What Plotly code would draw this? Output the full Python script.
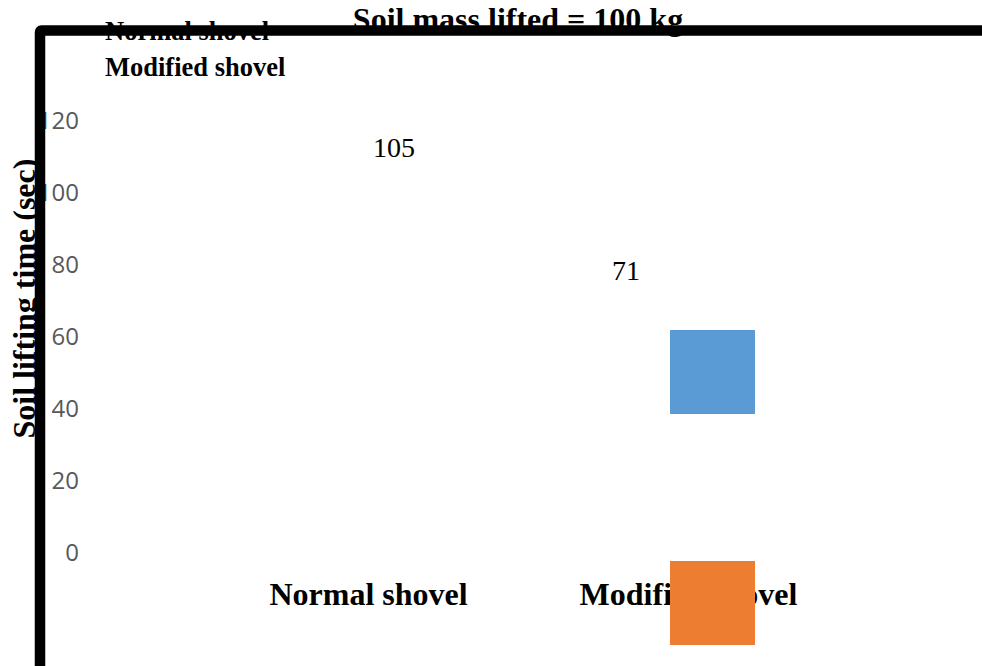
import plotly.graph_objects as go

# ---- data ----
categories = ["Normal shovel", "Modified shovel"]
lifting_time_sec = [105, 71]
series_names = ["Normal shovel", "Modified shovel"]
series_colors = ["#5B9BD5", "#ED7D31"]
y_ticks = [0, 20, 40, 60, 80, 100, 120]
chart_title = "Soil mass lifted = 100 kg"
y_title = "Soil lifting time (sec)"

W, H = 982, 666
SERIF = "Liberation Serif, Times New Roman, serif"
SANS = "Open Sans, Calibri, sans-serif"


def fx(px):
    """pixel x -> paper fraction"""
    return px / W


def fy(py):
    """pixel y (from top) -> paper fraction"""
    return 1 - py / H


fig = go.Figure()

# value bars (no fill, only their labels are shown)
fig.add_trace(go.Bar(
    x=categories, y=lifting_time_sec,
    marker=dict(color="rgba(0,0,0,0)", line=dict(width=0)),
    hoverinfo="skip", showlegend=False,
    xaxis="x", yaxis="y",
))

# chart title drawn as text on the full-page overlay axes
fig.add_trace(go.Scatter(
    x=[fx(518)], y=[fy(22)], mode="text", text=[chart_title],
    textposition="middle center",
    textfont=dict(family=SERIF, size=32, color="black", weight="bold"),
    hoverinfo="skip", showlegend=False, xaxis="x2", yaxis="y2",
))

# series names (legend entries)
fig.add_trace(go.Scatter(
    x=[fx(105), fx(105)], y=[fy(33), fy(69)], mode="text", text=series_names,
    textposition="middle right",
    textfont=dict(family=SERIF, size=26.5, color="black", weight="bold"),
    hoverinfo="skip", showlegend=False, xaxis="x2", yaxis="y2",
))

# value labels
label_shift = [25, -62.5]
annotations = []
for cat, val, dx in zip(categories, lifting_time_sec, label_shift):
    annotations.append(dict(
        x=cat, y=val, xref="x", yref="y", text=str(val), showarrow=False,
        xshift=dx, yshift=27, yanchor="middle", xanchor="center",
        font=dict(family=SERIF, size=28, color="black"),
    ))

# rotated y axis title
annotations.append(dict(
    x=fx(23.5), y=fy(299), xref="paper", yref="paper", text=y_title,
    textangle=-90, showarrow=False, xanchor="center", yanchor="middle",
    font=dict(family=SERIF, size=32, color="black", weight="bold"),
))

shapes = []
# legend swatches
swatch_boxes = [(670, 330, 755, 414), (670, 561, 755, 645)]
for color, (x0, y0, x1, y1) in zip(series_colors, swatch_boxes):
    shapes.append(dict(
        type="rect", xref="paper", yref="paper",
        x0=fx(x0), x1=fx(x1), y0=fy(y1), y1=fy(y0),
        fillcolor=color, line=dict(width=0), layer="above",
    ))

# heavy chart-area frame with rounded corner
lx, ty, r = 40, 30.5, 1.5
frame_path = (
    f"M {fx(lx)},{fy(720)} L {fx(lx)},{fy(ty + r)} "
    f"Q {fx(lx)},{fy(ty)} {fx(lx + r)},{fy(ty)} L {fx(1040)},{fy(ty)}"
)
shapes.append(dict(
    type="path", xref="paper", yref="paper", path=frame_path,
    line=dict(color="black", width=10.5), layer="above",
))

# 0 at y=553px, 3.6025 px per unit, plot area 100..572 px
ppu = 3.6025
y_lo = (553 - 572) / ppu
y_hi = (553 - 100) / ppu
# category centres at 368.5 and 688.5 px, 320 px apart, plot area 80..982 px
cpu = 320
x_lo = -(368.5 - 80) / cpu
x_hi = (982 - 368.5) / cpu

fig.update_layout(
    width=W, height=H, autosize=False,
    margin=dict(l=0, r=0, t=0, b=0, pad=0),
    paper_bgcolor="white", plot_bgcolor="rgba(0,0,0,0)",
    showlegend=False,
    xaxis=dict(
        domain=[fx(80), 1], range=[x_lo, x_hi], type="category",
        categoryorder="array", categoryarray=categories,
        showgrid=False, zeroline=False, showline=False, ticks="",
        tickfont=dict(family=SERIF, size=32, color="black", weight="bold"),
        anchor="y", fixedrange=True,
    ),
    yaxis=dict(
        domain=[fy(572), fy(100)], range=[y_lo, y_hi],
        tickvals=y_ticks, ticktext=[str(v) for v in y_ticks],
        showgrid=False, zeroline=False, showline=False, ticks="",
        tickfont=dict(family=SANS, size=24, color="#595959"),
        anchor="x", fixedrange=True,
    ),
    xaxis2=dict(domain=[0, 1], range=[0, 1], visible=False, anchor="y2",
                fixedrange=True),
    yaxis2=dict(domain=[0, 1], range=[0, 1], visible=False, anchor="x2",
                fixedrange=True),
    annotations=annotations,
    shapes=shapes,
)

fig.write_html("out.html")
